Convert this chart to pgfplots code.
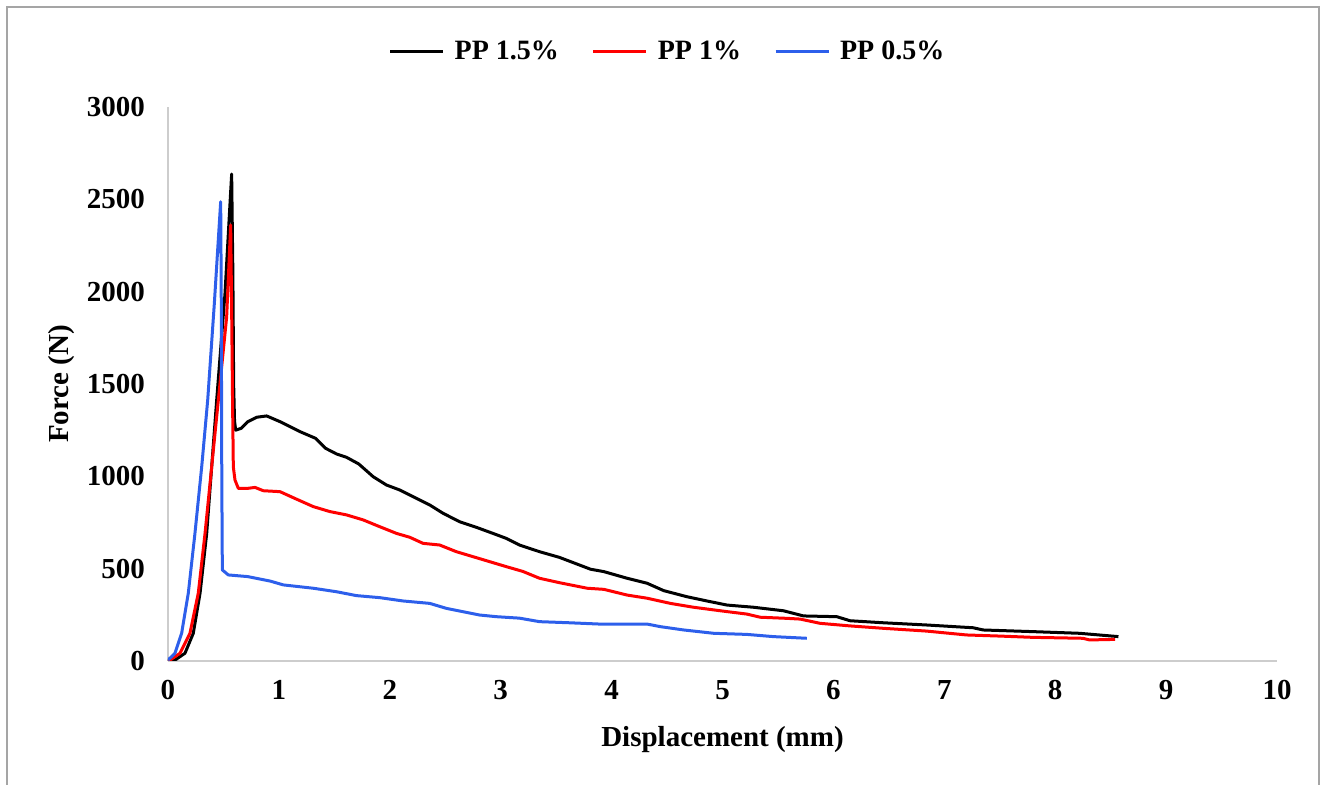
\documentclass[border=0pt]{standalone}
\usepackage{pgfplots}
\pgfplotsset{compat=1.18}
\usepackage{fontspec}
\setmainfont{Liberation Serif}
\definecolor{axgray}{RGB}{205,205,205}
\definecolor{frgray}{RGB}{165,165,165}
\definecolor{ppblue}{RGB}{45,95,235}
\definecolor{ppred}{RGB}{255,0,0}
\newcommand{\chartfont}{\fontsize{14.5}{17}\selectfont\bfseries}
\newcommand{\legfont}{\fontsize{14}{17}\selectfont\bfseries}
\begin{document}
\begin{tikzpicture}
\useasboundingbox (-84pt,-62pt) rectangle (578.5pt,330.5pt);
\draw[frgray, line width=0.75pt] (-80.5pt,-62pt) -- (-80.5pt,327pt) -- (575.5pt,327pt) -- (575.5pt,-62pt);
\begin{axis}[
  at={(0,0)}, anchor=south west,
  scale only axis, width=554.5pt, height=277pt,
  xmin=0, xmax=10, ymin=0, ymax=3000,
  xtick={0,1,...,10}, ytick={0,500,...,3000},
  axis x line=bottom, axis y line=left,
  axis line style={-, axgray, line width=1pt},
  major tick length=0pt,
  tick label style={font=\chartfont},
  /pgf/number format/assume math mode=true,
  /pgf/number format/1000 sep={},
  xticklabel style={yshift=-6pt},
  yticklabel style={xshift=-8pt},
  xlabel={Displacement (mm)},
  ylabel={Force (N)},
  label style={font=\chartfont},
  xlabel style={at={(axis description cs:0.5,-0.1426)}, anchor=center},
  ylabel style={at={(axis description cs:-0.0956,0.5)}, anchor=center},
  legend style={at={(axis description cs:0.4513,1.0995)}, anchor=center, draw=none, fill=none,
    font=\legfont, legend columns=3,
    /tikz/every even column/.append style={column sep=14.5pt}},
  legend image code/.code={\draw[#1] (0pt,0pt) -- (26.5pt,0pt); \path (29.5pt,0pt);},
  every axis plot/.append style={line width=1.5pt, line join=round},
]
\addplot[black] coordinates {
(0,0) (0.063,5) (0.153,42) (0.228,150) (0.289,367) (0.349,691) (0.394,1052) (0.439,1413)
(0.514,1991) (0.574,2637) (0.585,2100) (0.592,1500) (0.60,1300) (0.61,1250) (0.66,1260)
(0.72,1296) (0.80,1320) (0.89,1327) (1.01,1296) (1.19,1242) (1.33,1206) (1.42,1152) (1.52,1121)
(1.61,1103) (1.72,1067) (1.85,998) (1.97,953) (2.09,926) (2.21,890) (2.36,845) (2.48,800)
(2.63,754) (2.78,724) (2.93,691) (3.05,664) (3.17,628) (3.35,592) (3.53,561) (3.81,497)
(3.93,484) (4.14,448) (4.32,421) (4.47,381) (4.68,348) (4.86,325) (5.04,303) (5.28,291)
(5.55,272) (5.73,244) (6.03,240) (6.15,218) (6.45,207) (6.84,195) (7.26,180) (7.35,168)
(7.80,159) (8.22,150) (8.57,132)
};
\addlegendentry{PP 1.5\%}
\addplot[ppred] coordinates {
(0,0) (0.018,5) (0.108,42) (0.198,150) (0.273,367) (0.334,691) (0.394,1052) (0.454,1413)
(0.529,1864) (0.565,2361) (0.574,1900) (0.582,1413) (0.589,1052) (0.604,980) (0.634,935)
(0.72,935) (0.785,940) (0.86,922) (1.01,917) (1.16,876) (1.31,836) (1.46,809) (1.61,791)
(1.76,764) (1.91,727) (2.06,691) (2.18,670) (2.30,637) (2.45,628) (2.60,592) (2.75,565)
(2.90,538) (3.05,511) (3.20,485) (3.35,448) (3.53,424) (3.78,394) (3.93,388) (4.14,357)
(4.32,340) (4.53,312) (4.74,291) (4.98,272) (5.22,254) (5.34,237) (5.58,231) (5.70,227)
(5.88,204) (6.15,190) (6.45,177) (6.84,162) (7.20,141) (7.50,135) (7.80,128) (8.25,123)
(8.31,114) (8.54,117)
};
\addlegendentry{PP 1\%}
\addplot[ppblue] coordinates {
(0,5) (0.063,42) (0.123,150) (0.183,367) (0.243,691) (0.304,1052) (0.358,1413) (0.418,1937)
(0.475,2487) (0.48,2000) (0.485,1000) (0.49,493) (0.544,466) (0.72,457) (0.77,451) (0.92,433)
(1.04,412) (1.31,394) (1.52,375) (1.70,354) (1.91,343) (2.12,325) (2.36,312) (2.51,285)
(2.81,249) (2.96,240) (3.17,232) (3.35,213) (3.62,207) (3.93,199) (4.32,200) (4.44,186)
(4.65,168) (4.92,150) (5.22,144) (5.46,132) (5.76,123)
};
\addlegendentry{PP 0.5\%}
\end{axis}
\end{tikzpicture}
\end{document}
